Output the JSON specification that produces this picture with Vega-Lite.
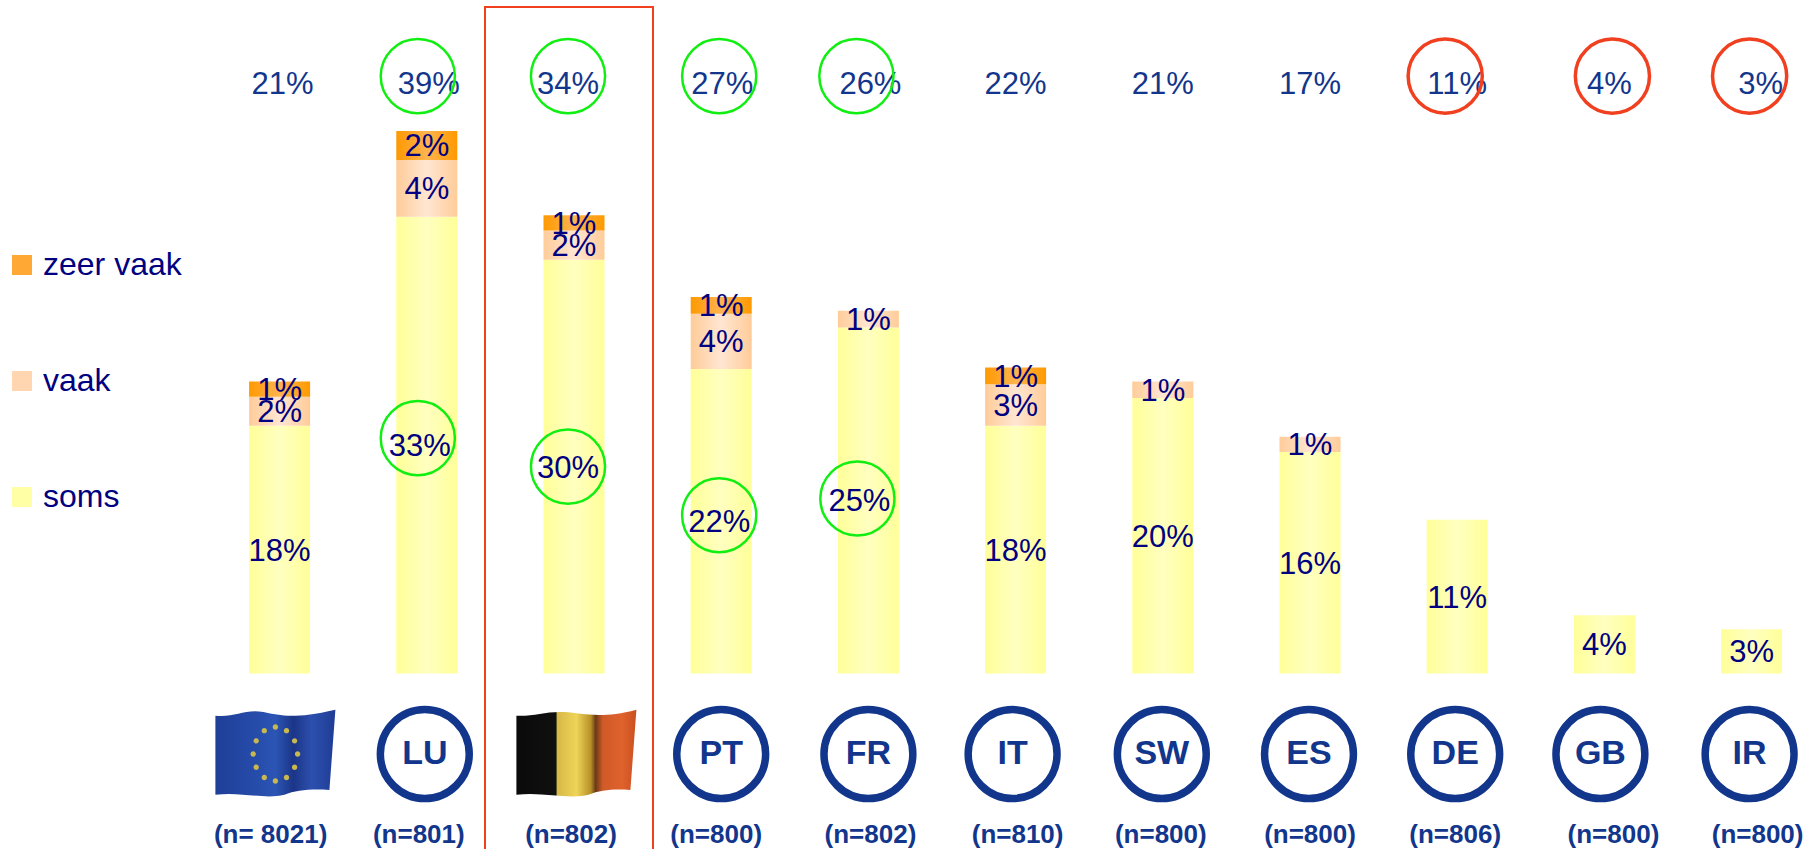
{
"$schema":"https://vega.github.io/schema/vega-lite/v6.json",
"width":1808,"height":849,"autosize":{"type":"fit","contains":"padding"},"padding":0,"background":"white",
"config":{"view":{"stroke":null},"font":"Liberation Sans"},
"datasets":{
"segments":[
{"land":"EU","serie":"soms","pct":17.9},{"land":"EU","serie":"vaak","pct":2.1},{"land":"EU","serie":"zeer vaak","pct":1.1},
{"land":"LU","serie":"soms","pct":33,"ring":"groen"},{"land":"LU","serie":"vaak","pct":4.1},{"land":"LU","serie":"zeer vaak","pct":2.1},
{"land":"BE","serie":"soms","pct":29.9,"ring":"groen"},{"land":"BE","serie":"vaak","pct":2.1},{"land":"BE","serie":"zeer vaak","pct":1.1},
{"land":"PT","serie":"soms","pct":22,"ring":"groen"},{"land":"PT","serie":"vaak","pct":4},{"land":"PT","serie":"zeer vaak","pct":1.2},
{"land":"FR","serie":"soms","pct":25,"ring":"groen"},{"land":"FR","serie":"vaak","pct":1.2},
{"land":"IT","serie":"soms","pct":17.9},{"land":"IT","serie":"vaak","pct":3},{"land":"IT","serie":"zeer vaak","pct":1.2},
{"land":"SW","serie":"soms","pct":19.9},{"land":"SW","serie":"vaak","pct":1.2},
{"land":"ES","serie":"soms","pct":16},{"land":"ES","serie":"vaak","pct":1.1},
{"land":"DE","serie":"soms","pct":11.1},
{"land":"GB","serie":"soms","pct":4.2},
{"land":"IR","serie":"soms","pct":3.2}],
"landen":[
{"land":"EU","totaal":21,"n":"(n= 8021)","soort":"vlagEU"},
{"land":"LU","totaal":39,"n":"(n=801)","soort":"badge","ring":"groen"},
{"land":"BE","totaal":34,"n":"(n=802)","soort":"vlagBE","ring":"groen","kader":true},
{"land":"PT","totaal":27,"n":"(n=800)","soort":"badge","ring":"groen"},
{"land":"FR","totaal":26,"n":"(n=802)","soort":"badge","ring":"groen"},
{"land":"IT","totaal":22,"n":"(n=810)","soort":"badge"},
{"land":"SW","totaal":21,"n":"(n=800)","soort":"badge"},
{"land":"ES","totaal":17,"n":"(n=800)","soort":"badge"},
{"land":"DE","totaal":11,"n":"(n=806)","soort":"badge","ring":"rood"},
{"land":"GB","totaal":4,"n":"(n=800)","soort":"badge","ring":"rood"},
{"land":"IR","totaal":3,"n":"(n=800)","soort":"badge","ring":"rood"}]
},
"encoding":{"x":{"field":"land","type":"nominal","axis":null,"scale":{"type":"point","padding":0,"domain":["EU","LU","BE","PT","FR","IT","SW","ES","DE","GB","IR"],"range":[279.6,1751.6]}}},
"layer":[
{"data":{"name":"landen"},"transform":[{"filter":"datum.kader"}],
 "mark":{"type":"bar","size":168,"xOffset":-5,"fill":null,"fillOpacity":0,"stroke":"#F04020","strokeWidth":2},
 "encoding":{"y":{"datum":48.15,"type":"quantitative","axis":null,"scale":{"domain":[-12.68,48.66],"range":[849,0],"zero":false,"nice":false}},"y2":{"datum":-14}}},
{"data":{"name":"segments"},
 "mark":{"type":"bar","size":61},
 "encoding":{
  "y":{"field":"pct","type":"quantitative","stack":"zero","axis":null},
  "order":{"field":"serie","sort":"ascending"},
  "fill":{"condition":[
    {"test":"datum.serie==='zeer vaak'","value":{"gradient":"linear","x1":0,"y1":0,"x2":1,"y2":0,"stops":[{"offset":0,"color":"#FF9900"},{"offset":0.5,"color":"#FFB450"},{"offset":1,"color":"#FF9900"}]}},
    {"test":"datum.serie==='vaak'","value":{"gradient":"linear","x1":0,"y1":0,"x2":1,"y2":0,"stops":[{"offset":0,"color":"#FFCC99"},{"offset":0.5,"color":"#FFE6D2"},{"offset":1,"color":"#FFCC99"}]}},
    {"test":"datum.serie==='soms'","value":{"gradient":"linear","x1":0,"y1":0,"x2":1,"y2":0,"stops":[{"offset":0,"color":"#FFFF99"},{"offset":0.5,"color":"#FFFFC0"},{"offset":1,"color":"#FFFF99"}]}}],
   "field":"serie","type":"nominal","scale":{"domain":["zeer vaak","vaak","soms"],"range":["#FFA833","#FFD6B0","#FFFFA5"]},
   "legend":{"title":null,"orient":"none","legendX":6,"legendY":249,"symbolType":"square","symbolSize":400,"symbolStrokeWidth":0,"labelFontSize":32,"labelColor":"#000080","labelFont":"Liberation Sans","labelOffset":5,"rowPadding":84,"labelLimit":300,"padding":0}}}},
{"data":{"name":"segments"},"transform":[{"calculate":"format(datum.pct, '.0f') + '%'","as":"tekst"}],
 "mark":{"type":"text","fontSize":31,"color":"#000080","baseline":"middle","yOffset":2,"xOffset":{"expr":"datum.ring==='groen' ? {LU:-7,BE:-6,PT:-2,FR:-9}[datum.land] : 0"}},
 "encoding":{
  "y":{"field":"pct","type":"quantitative","stack":"zero","bandPosition":0.5,"axis":null},
  "order":{"field":"serie","sort":"ascending"},
  "text":{"field":"tekst"}}},
{"data":{"name":"landen"},"transform":[{"calculate":"datum.totaal + '%'","as":"tekst"}],
 "mark":{"type":"text","fontSize":31,"color":"#12368C","baseline":"middle","xOffset":{"expr":"{EU:3,LU:2,BE:-6,PT:1,FR:2,IT:0,SW:0,ES:0,DE:0,GB:5,IR:9}[datum.land]"}},
 "encoding":{"y":{"datum":42.49,"type":"quantitative"},"text":{"field":"tekst"}}},
{"data":{"name":"landen"},"transform":[{"filter":"datum.ring==='groen'"}],
 "mark":{"type":"point","shape":"circle","size":5500,"filled":false,"stroke":"#11EE11","strokeWidth":2.5,"opacity":1,"xOffset":{"expr":"{LU:-9,BE:-6,PT:-2,FR:-12}[datum.land]"}},
 "encoding":{"y":{"datum":43.16,"type":"quantitative"}}},
{"data":{"name":"landen"},"transform":[{"filter":"datum.ring==='rood'"}],
 "mark":{"type":"point","shape":"circle","size":5500,"filled":false,"stroke":"#F04020","strokeWidth":3.5,"opacity":1,"xOffset":{"expr":"{DE:-12,GB:8,IR:-2}[datum.land]"}},
 "encoding":{"y":{"datum":43.16,"type":"quantitative"}}},
{"data":{"name":"segments"},"transform":[{"filter":"datum.ring==='groen'"}],
 "mark":{"type":"point","shape":"circle","size":5500,"filled":false,"stroke":"#11EE11","strokeWidth":2.5,"opacity":1,"xOffset":{"expr":"{LU:-9,BE:-6,PT:-2,FR:-11}[datum.land]"},"yOffset":{"expr":"{LU:-7,BE:0,PT:-6,FR:-2}[datum.land]"}},
 "encoding":{"y":{"field":"pct","type":"quantitative","stack":"zero","bandPosition":0.5}}},
{"data":{"name":"landen"},"transform":[{"filter":"datum.soort==='badge'"}],
 "mark":{"type":"point","shape":"circle","size":7900,"filled":false,"stroke":"#12368C","strokeWidth":7.5,"opacity":1,"xOffset":{"expr":"{LU:-2,PT:0,FR:0,IT:-3,SW:-1,ES:-1,DE:-2,GB:-4,IR:-2}[datum.land]"}},
 "encoding":{"y":{"datum":-5.82,"type":"quantitative"}}},
{"data":{"name":"landen"},"transform":[{"filter":"datum.soort==='badge'"}],
 "mark":{"type":"text","fontSize":34,"fontWeight":"bold","color":"#12368C","baseline":"middle","xOffset":{"expr":"{LU:-2,PT:0,FR:0,IT:-3,SW:-1,ES:-1,DE:-2,GB:-4,IR:-2}[datum.land]"}},
 "encoding":{"y":{"datum":-5.82,"type":"quantitative"},"text":{"field":"land"}}},
{"data":{"name":"landen"},"transform":[{"filter":"datum.soort==='vlagEU'"}],
 "mark":{"type":"point","filled":true,"opacity":1,"size":14400,"strokeWidth":0,
  "shape":"M-1.07 -0.64 C-0.77 -0.6 -0.57 -0.76 -0.27 -0.7 C0.03 -0.64 0.23 -0.58 0.93 -0.74 L0.83 0.6 C0.53 0.58 0.28 0.6 0.08 0.68 C-0.27 0.76 -0.67 0.62 -1.07 0.68 Z",
  "fill":{"gradient":"linear","x1":0,"y1":0,"x2":1,"y2":0,"stops":[{"offset":0,"color":"#1F3F98"},{"offset":0.3,"color":"#254AA8"},{"offset":0.5,"color":"#2C55B5"},{"offset":0.65,"color":"#1B3587"},{"offset":0.8,"color":"#2C50AE"},{"offset":1,"color":"#1F3C95"}]}},
 "encoding":{"y":{"datum":-5.82,"type":"quantitative"}}},
{"data":{"name":"landen"},"transform":[{"filter":"datum.soort==='vlagEU'"}],
 "mark":{"type":"point","filled":true,"opacity":1,"size":14400,"strokeWidth":0,"fill":"#C8B850",
  "shape":"M-0.115 -0.45a0.045 0.045 0 1 0 0.09 0a0.045 0.045 0 1 0 -0.09 0ZM0.07 -0.39a0.045 0.045 0 1 0 0.09 0a0.045 0.045 0 1 0 -0.09 0ZM0.205 -0.22a0.045 0.045 0 1 0 0.09 0a0.045 0.045 0 1 0 -0.09 0ZM0.255 0a0.045 0.045 0 1 0 0.09 0a0.045 0.045 0 1 0 -0.09 0ZM0.205 0.22a0.045 0.045 0 1 0 0.09 0a0.045 0.045 0 1 0 -0.09 0ZM0.07 0.39a0.045 0.045 0 1 0 0.09 0a0.045 0.045 0 1 0 -0.09 0ZM-0.115 0.45a0.045 0.045 0 1 0 0.09 0a0.045 0.045 0 1 0 -0.09 0ZM-0.3 0.39a0.045 0.045 0 1 0 0.09 0a0.045 0.045 0 1 0 -0.09 0ZM-0.435 0.22a0.045 0.045 0 1 0 0.09 0a0.045 0.045 0 1 0 -0.09 0ZM-0.485 0a0.045 0.045 0 1 0 0.09 0a0.045 0.045 0 1 0 -0.09 0ZM-0.435 -0.22a0.045 0.045 0 1 0 0.09 0a0.045 0.045 0 1 0 -0.09 0ZM-0.3 -0.39a0.045 0.045 0 1 0 0.09 0a0.045 0.045 0 1 0 -0.09 0Z"},
 "encoding":{"y":{"datum":-5.82,"type":"quantitative"}}},
{"data":{"name":"landen"},"transform":[{"filter":"datum.soort==='vlagBE'"}],
 "mark":{"type":"point","filled":true,"opacity":1,"size":14400,"strokeWidth":0,
  "shape":"M-0.96 -0.64 C-0.7 -0.62 -0.45 -0.72 -0.16 -0.7 C0.15 -0.68 0.45 -0.58 1.04 -0.74 L0.94 0.6 C0.65 0.58 0.45 0.6 0.24 0.68 C-0.1 0.76 -0.55 0.62 -0.96 0.68 Z",
  "fill":{"gradient":"linear","x1":0,"y1":0,"x2":1,"y2":0,"stops":[{"offset":0,"color":"#0A0A0A"},{"offset":0.33,"color":"#101010"},{"offset":0.34,"color":"#D8B848"},{"offset":0.5,"color":"#EED458"},{"offset":0.62,"color":"#B89028"},{"offset":0.66,"color":"#6A3A18"},{"offset":0.72,"color":"#D05A28"},{"offset":0.88,"color":"#E0622C"},{"offset":1,"color":"#C85020"}]}},
 "encoding":{"y":{"datum":-5.82,"type":"quantitative"}}},
{"data":{"name":"landen"},
 "mark":{"type":"text","fontSize":26,"fontWeight":"bold","color":"#12368C","baseline":"middle","xOffset":{"expr":"{EU:-9,LU:-8,BE:-3,PT:-5,FR:2,IT:2,SW:-2,ES:0,DE:-2,GB:9,IR:6}[datum.land]"}},
 "encoding":{"y":{"datum":-11.7,"type":"quantitative"},"text":{"field":"n"}}}
]
}
